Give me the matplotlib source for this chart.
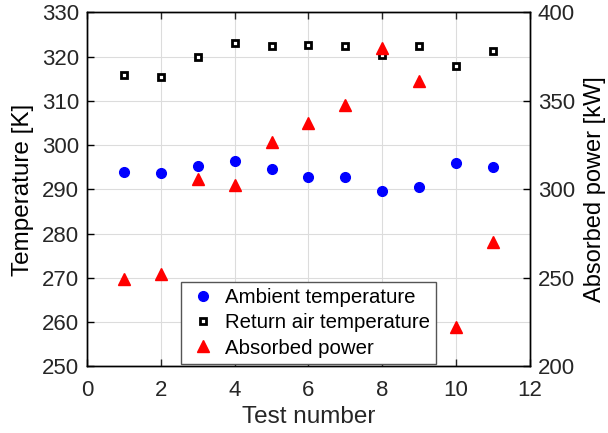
import numpy as np
import matplotlib.pyplot as plt

plt.rcParams['font.family'] = ['Liberation Sans', 'DejaVu Sans']

# test data
test = [1, 2, 3, 4, 5, 6, 7, 8, 9, 10, 11]
ambient = [294.0, 293.7, 295.3, 296.5, 294.6, 292.9, 292.9, 289.7, 290.6, 295.9, 295.1]
return_air = [315.8, 315.5, 320.0, 323.2, 322.4, 322.6, 322.4, 320.3, 322.4, 317.9, 321.3]
power = [249.2, 252.5, 306.2, 302.4, 326.7, 337.3, 347.5, 380.0, 361.2, 222.4, 270.2]

txt = '#262626'

fig = plt.figure(figsize=(6.08, 4.33), dpi=100)
ax1 = fig.add_axes([0.1431, 0.1536, 0.7286, 0.8176])
ax2 = ax1.twinx()

l1, = ax1.plot(test, ambient, 'o', color='blue', markersize=7, linestyle='none',
               label='Ambient temperature')
l2, = ax1.plot(test, return_air, 's', markerfacecolor='white', markeredgecolor='black',
               markeredgewidth=2, markersize=4.6, linestyle='none',
               label='Return air temperature')
l3, = ax2.plot(test, power, '^', color='red', markersize=9, linestyle='none',
               label='Absorbed power')

ax1.set_xlim(0, 12)
ax1.set_ylim(250, 330)
ax2.set_ylim(200, 400)
ax1.set_xticks(np.arange(0, 13, 2))
ax1.set_yticks(np.arange(250, 331, 10))
ax2.set_yticks(np.arange(200, 401, 50))

ax1.grid(True, color='#dcdcdc', linewidth=0.8)
ax1.set_axisbelow(True)

for a in (ax1, ax2):
    a.tick_params(direction='in', labelsize=16, colors=txt, length=5, width=1, pad=5.5)
    for s in a.spines.values():
        s.set_color('black')
        s.set_linewidth(1)
ax1.tick_params(axis='x', top=True, pad=10)
ax1.tick_params(axis='y', colors='black', labelcolor=txt)
ax2.tick_params(axis='y', colors='black', labelcolor=txt)

ax1.set_xlabel('Test number', fontsize=17.5, color=txt, labelpad=3)
ax1.set_ylabel('Temperature [K]', fontsize=17.5, color='black', labelpad=6)
ax2.set_ylabel('Absorbed power [kW]', fontsize=17, color='black', labelpad=7)

leg = ax2.legend(handles=[l1, l2, l3], loc='lower center', bbox_to_anchor=(0.5, 0.008),
                 borderaxespad=0, fontsize=14.7, fancybox=False, framealpha=1,
                 edgecolor='#555555', handletextpad=0.25, borderpad=0.3,
                 labelspacing=0.3, handlelength=1.6)
leg.get_frame().set_linewidth(1)

fig.savefig('out.png', dpi=100)
